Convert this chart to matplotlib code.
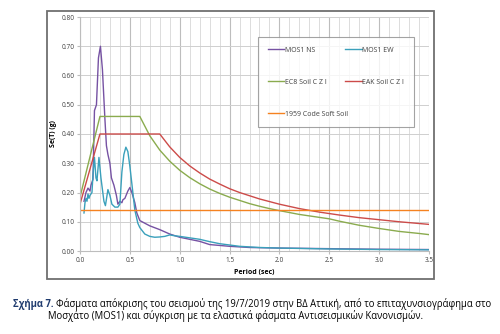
import matplotlib
matplotlib.use('Agg')
import matplotlib.pyplot as plt
from matplotlib.patches import Rectangle
import numpy as np

# response spectra
ns_T = [0.04, 0.06, 0.08, 0.10, 0.11, 0.13, 0.145, 0.165, 0.185, 0.205, 0.225, 0.25, 0.265,
        0.28, 0.30, 0.315, 0.34, 0.365, 0.38, 0.40, 0.42, 0.43, 0.45, 0.48, 0.50, 0.52, 0.55,
        0.57, 0.60, 0.70, 0.80, 0.90, 1.0, 1.1, 1.2, 1.3, 1.5, 1.7, 2.0, 2.5, 3.0, 3.5]
ns_Se = [0.17, 0.20, 0.215, 0.205, 0.225, 0.245, 0.48, 0.50, 0.66, 0.70, 0.62, 0.45, 0.36,
         0.33, 0.30, 0.25, 0.225, 0.19, 0.16, 0.17, 0.165, 0.175, 0.18, 0.205, 0.217, 0.20, 0.165,
         0.13, 0.104, 0.086, 0.073, 0.058, 0.047, 0.040, 0.033, 0.022, 0.016, 0.012, 0.010, 0.008,
         0.006, 0.005]

ew_T = [0.04, 0.05, 0.06, 0.07, 0.08, 0.09, 0.10, 0.12, 0.13, 0.145, 0.16, 0.17, 0.19, 0.21,
        0.24, 0.255, 0.28, 0.30, 0.32, 0.35, 0.38, 0.40, 0.42, 0.44, 0.46, 0.48, 0.50, 0.52,
        0.55, 0.58, 0.60, 0.65, 0.70, 0.75, 0.80, 0.85, 0.90, 0.95, 1.0, 1.1, 1.2, 1.3, 1.4,
        1.6, 1.8, 2.0, 2.5, 3.0, 3.5]
ew_Se = [0.13, 0.165, 0.18, 0.17, 0.195, 0.18, 0.19, 0.20, 0.26, 0.32, 0.25, 0.24, 0.32, 0.25,
         0.17, 0.155, 0.21, 0.19, 0.16, 0.15, 0.15, 0.16, 0.27, 0.33, 0.355, 0.34, 0.29, 0.23,
         0.14, 0.095, 0.08, 0.058, 0.05, 0.047, 0.048, 0.05, 0.055, 0.052, 0.05, 0.045, 0.04,
         0.032, 0.025, 0.016, 0.012, 0.010, 0.007, 0.005, 0.004]

ec8_T = [0.0, 0.2, 0.6, 0.7, 0.8, 0.9, 1.0, 1.1, 1.2, 1.3, 1.4, 1.5, 1.6, 1.7, 1.8, 1.9, 2.0,
         2.2, 2.4, 2.5, 2.6, 2.8, 3.0, 3.2, 3.4, 3.5]
ec8_Se = [0.184, 0.46, 0.46, 0.394, 0.345, 0.307, 0.276, 0.251, 0.230, 0.212, 0.197, 0.184,
          0.173, 0.162, 0.153, 0.145, 0.138, 0.125, 0.115, 0.110, 0.102, 0.088, 0.077, 0.067,
          0.060, 0.056]

eak_T = [0.0, 0.2, 0.8, 0.9, 1.0, 1.1, 1.2, 1.3, 1.4, 1.5, 1.6, 1.8, 2.0, 2.2, 2.4, 2.6, 2.8,
         3.0, 3.2, 3.5]
eak_Se = [0.16, 0.40, 0.40, 0.356, 0.32, 0.291, 0.267, 0.246, 0.229, 0.213, 0.200, 0.178,
          0.160, 0.145, 0.133, 0.123, 0.114, 0.107, 0.100, 0.091]

code59_T = [0.0, 3.5]
code59_Se = [0.14, 0.14]

plt.rcParams['font.family'] = ['Open Sans', 'DejaVu Sans']

fig = plt.figure(figsize=(5.0, 3.34), dpi=100)
fig.patches.append(Rectangle((47/500, 1-279/334), 387/500, 268/334, transform=fig.transFigure,
                             fill=False, edgecolor='#6f6f6f', lw=1.3))

ax = fig.add_axes([80/500, 1-251/334, 349/500, 234/334])
lw = 1.0
l_ns, = ax.plot(ns_T, ns_Se, color='#7652a3', lw=lw, label='MOS1 NS')
l_ew, = ax.plot(ew_T, ew_Se, color='#3aa0bb', lw=lw, label='MOS1 EW')
l_ec8, = ax.plot(ec8_T, ec8_Se, color='#8aab4e', lw=lw, label='EC8 Soil C Z I')
l_eak, = ax.plot(eak_T, eak_Se, color='#cc4b49', lw=lw, label='EAK Soil C Z I')
l_59, = ax.plot(code59_T, code59_Se, color='#f58220', lw=lw, label='1959 Code Soft Soil')

ax.set_xlim(0, 3.5)
ax.set_ylim(0, 0.8)
ax.set_xticks(np.arange(0, 3.51, 0.5))
ax.set_xticks(np.arange(0, 3.51, 0.1), minor=True)
ax.set_yticks(np.arange(0, 0.81, 0.1))
ax.set_xticklabels(['%.1f' % t for t in np.arange(0, 3.51, 0.5)])
ax.set_yticklabels(['%.2f' % t for t in np.arange(0, 0.81, 0.1)])
ax.grid(True, which='major', axis='x', color='#bdbdbd', lw=0.8)
ax.grid(True, which='minor', axis='x', color='#dcdcdc', lw=0.7)
ax.grid(True, which='major', axis='y', color='#cfcfcf', lw=0.7)
ax.set_axisbelow(True)
for s in ['top', 'right']:
    ax.spines[s].set_visible(False)
for s in ['left', 'bottom']:
    ax.spines[s].set_color('#bdbdbd')
    ax.spines[s].set_linewidth(0.8)
ax.tick_params(which='both', length=2, color='#bdbdbd', labelsize=4.7, labelcolor='#404040', pad=2)
ax.tick_params(which='minor', length=0)

ax.set_xlabel('Period (sec)', fontsize=5, fontweight='bold')
ax.xaxis.set_label_coords(0.5, -0.075)
ax.set_ylabel('Se(T) (g)', fontsize=5, fontweight='bold')
ax.yaxis.set_label_coords(-0.065, 0.5)

leg = ax.legend([l_ns, l_ec8, l_59, l_ew, l_eak],
                ['MOS1 NS', 'EC8 Soil C Z I', '1959 Code Soft Soil', 'MOS1 EW', 'EAK Soil C Z I'],
                ncol=2, loc='upper left', bbox_to_anchor=(0.51, 0.5, 0.447, 0.415), mode='expand',
                fontsize=5, frameon=True, fancybox=False, borderaxespad=0,
                handlelength=2.4, handletextpad=0.1, labelspacing=3.6, borderpad=1.4)
leg.get_frame().set_edgecolor('#8c8c8c')
leg.get_frame().set_linewidth(0.8)
for t in leg.get_texts():
    t.set_color('#404040')

# caption
fig.canvas.draw()
r = fig.canvas.get_renderer()
cap1 = fig.text(13/500, 1-304/334, 'Σχήμα 7.', fontsize=6.85, fontweight='bold',
                color='#1f3b6e', va='center', ha='left')
bb = cap1.get_window_extent(renderer=r)
fig.text((bb.x1 + 3)/500, 1-304/334,
         'Φάσματα απόκρισης του σεισμού της 19/7/2019 στην ΒΔ Αττική, από το επιταχυνσιογράφημα στο',
         fontsize=6.85, va='center', ha='left')
fig.text(48/500, 1-316/334,
         'Μοσχάτο (MOS1) και σύγκριση με τα ελαστικά φάσματα Αντισεισμικών Κανονισμών.',
         fontsize=6.85, va='center', ha='left')

fig.savefig('out.png', dpi=100)
